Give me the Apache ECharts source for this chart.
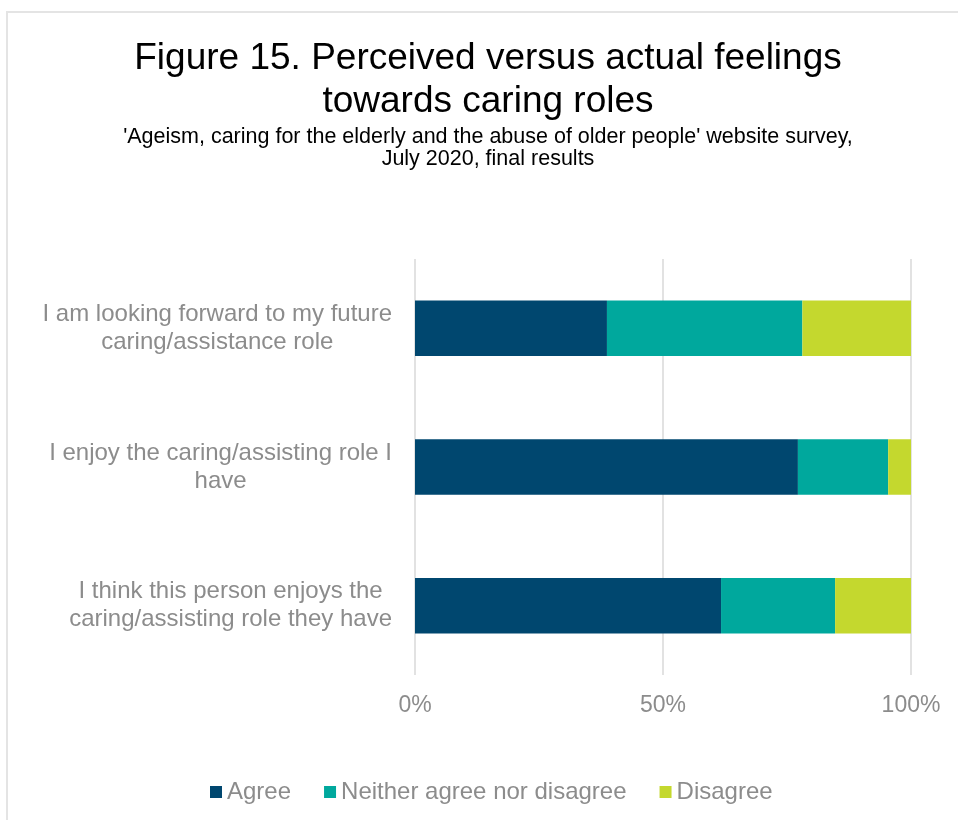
<!DOCTYPE html>
<html>
<head>
<meta charset="utf-8">
<script src="https://cdn.jsdelivr.net/npm/echarts@6/dist/echarts.min.js"></script>
<style>
  html, body { margin: 0; padding: 0; background: #ffffff; }
  #chart { width: 958px; height: 820px; }
</style>
</head>
<body>
<div id="chart"></div>
<script>
// Survey statements (top to bottom)
const categories = [
  'I am looking forward to my future\ncaring/assistance role',
  'I enjoy the caring/assisting role I\nhave',
  'I think this person enjoys the\ncaring/assisting role they have'
];
// Share of respondents, percent
const agree = [38.7, 77.2, 61.7];
const neither = [39.4, 18.2, 23.0];
const disagree = [21.9, 4.6, 15.3];
const seriesNames = ['Agree', 'Neither agree nor disagree', 'Disagree'];
const tickValues = [0, 50, 100];

const colors = ['#00476F', '#00A89D', '#C4D82E'];
const grey = '#8c8c8c';
const font = '"Liberation Sans", Arial, sans-serif';

const chart = echarts.init(document.getElementById('chart'));

const values = [agree, neither, disagree];

chart.setOption({
  animation: false,
  backgroundColor: '#ffffff',
  textStyle: { fontFamily: font },
  graphic: [{
    type: 'rect',
    shape: { x: 7, y: 12, width: 1000, height: 900 },
    style: { fill: 'none', stroke: '#e4e4e4', lineWidth: 2 },
    silent: true
  }],
  title: [{
    text: 'Figure 15. Perceived versus actual feelings\ntowards caring roles',
    left: 483,
    textAlign: 'center',
    top: 32,
    textStyle: { fontFamily: font, fontSize: 37, fontWeight: 'normal', color: '#000000', lineHeight: 43 }
  }, {
    text: "'Ageism, caring for the elderly and the abuse of older people' website survey,\nJuly 2020, final results",
    left: 483,
    textAlign: 'center',
    top: 121,
    textStyle: { fontFamily: font, fontSize: 21.5, fontWeight: 'normal', color: '#000000', lineHeight: 22 }
  }],
  legend: {
    bottom: 11,
    left: 205,
    itemWidth: 12,
    itemHeight: 12,
    itemGap: 33,
    icon: 'rect',
    textStyle: { fontFamily: font, fontSize: 24, color: grey },
    data: seriesNames
  },
  grid: { left: 415, right: 47, top: 259, bottom: 145, containLabel: false },
  xAxis: {
    type: 'value',
    min: tickValues[0],
    max: tickValues[tickValues.length - 1],
    interval: tickValues[1] - tickValues[0],
    axisLine: { show: false },
    axisTick: { show: false },
    splitLine: { show: true, lineStyle: { color: '#d9d9d9', width: 1.5 } },
    axisLabel: { formatter: '{value}%', fontFamily: font, fontSize: 23, color: grey, margin: 19 }
  },
  yAxis: {
    type: 'category',
    inverse: true,
    data: categories,
    axisLine: { show: false },
    axisTick: { show: false },
    axisLabel: {
      align: 'right',
      margin: 23,
      // lines centred within a right-aligned block
      formatter: v => v.split('\n').map(s => '{c|' + s + '}').join('\n'),
      rich: {
        c: { align: 'center', fontFamily: font, fontSize: 24, color: grey, lineHeight: 28 }
      }
    }
  },
  series: seriesNames.map((name, i) => ({
    name: name,
    type: 'bar',
    stack: 'total',
    barWidth: '40%',
    itemStyle: { color: colors[i] },
    data: values[i]
  }))
});
</script>
</body>
</html>
